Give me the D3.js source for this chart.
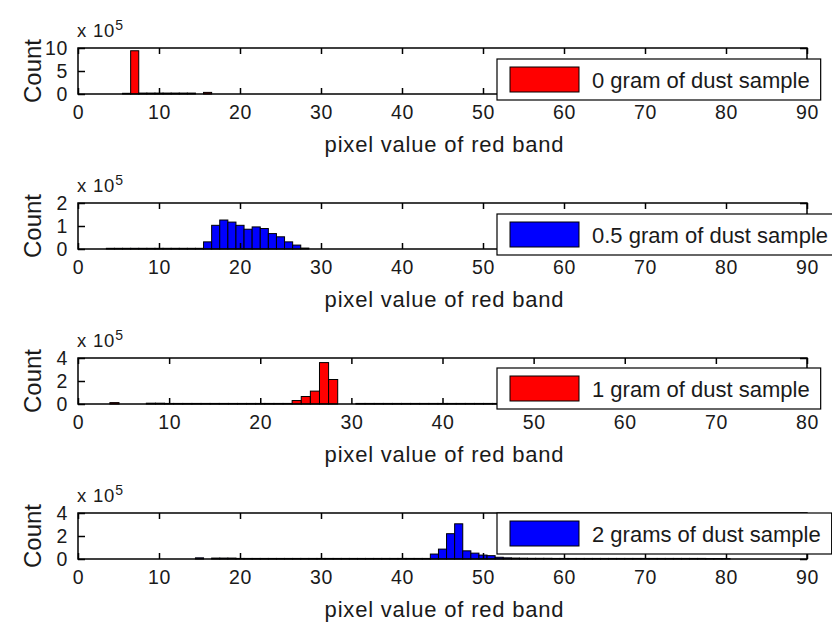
<!DOCTYPE html>
<html>
<head>
<meta charset="utf-8">
<script src="https://cdn.jsdelivr.net/npm/d3@7"></script>
<style>
  html, body { margin: 0; padding: 0; background: #fff; }
  svg { display: block; }
  text { font-family: "Liberation Sans", Arial, sans-serif; fill: #1a1a1a; }
</style>
</head>
<body>
<svg id="chart" width="832" height="626"></svg>
<script>
// ---------- data (counts in units of 1e5) ----------
const legendLabels = ["0 gram of dust sample", "0.5 gram of dust sample", "1 gram of dust sample", "2 grams of dust sample"];
const barColors = ["#ff0000", "#0000ff", "#ff0000", "#0000ff"];
const xMaxes = [90, 90, 80, 90];
const yMaxes = [10, 2, 4, 4];

const bins0 = [6, 7, 8, 9, 10, 11, 12, 13, 14, 16];
const counts0 = [0.15, 9.4, 0.2, 0.2, 0.2, 0.2, 0.2, 0.2, 0.2, 0.35];

const bins05 = [4, 5, 6, 7, 8, 9, 10, 11, 12, 13, 14, 15, 16, 17, 18, 19, 20, 21, 22, 23, 24, 25, 26, 27, 28];
const counts05 = [0.03, 0.03, 0.03, 0.03, 0.03, 0.03, 0.03, 0.03, 0.03, 0.03, 0.03, 0.03, 0.31, 1.03, 1.26, 1.17, 1.03, 0.86, 0.96, 0.89, 0.67, 0.53, 0.31, 0.17, 0.04];

const bins1 = [4, 8, 9, 10, 11, 12, 13, 14, 15, 16, 17, 18, 19, 20, 21, 22, 23, 24, 25, 26, 27, 28,
               31, 32, 33, 34, 35, 36, 37, 38, 39, 40, 41, 42, 43, 44, 45, 46, 47, 48];
const counts1 = [0.12, 0.07, 0.07, 0.05, 0.05, 0.05, 0.05, 0.05, 0.05, 0.05, 0.05, 0.05, 0.05, 0.05, 0.05, 0.05, 0.05, 0.3, 0.65, 1.12, 3.6, 2.13,
                 0.05, 0.05, 0.05, 0.05, 0.05, 0.05, 0.05, 0.05, 0.05, 0.05, 0.05, 0.05, 0.05, 0.05, 0.05, 0.05, 0.05, 0.05];

const bins2 = [15, 17, 18, 19, 20, 21, 22, 23, 24, 25, 26, 27, 28, 29, 30, 31, 32, 33, 34, 35, 36, 37, 38, 39, 40, 41, 42, 43,
               44, 45, 46, 47, 48, 49, 50, 51, 52, 53, 54, 55, 56, 57, 58, 59, 60, 61, 62, 63, 64, 65, 66, 67, 68, 69, 70, 71, 72, 73, 74, 75, 76, 77, 78, 79, 80];
const counts2 = [0.1, 0.08, 0.08, 0.08, 0.05, 0.05, 0.05, 0.05, 0.05, 0.05, 0.05, 0.05, 0.05, 0.05, 0.05, 0.05, 0.05, 0.05, 0.05, 0.05, 0.05, 0.05, 0.05, 0.05, 0.05, 0.05, 0.05, 0.05,
                 0.43, 0.86, 2.2, 3.06, 0.71, 0.51, 0.34, 0.29, 0.15, 0.1, 0.08, 0.07, 0.06, 0.06, 0.06, 0.05, 0.05, 0.05, 0.05, 0.05, 0.05, 0.05, 0.05, 0.05, 0.05, 0.05, 0.05, 0.05, 0.05, 0.05, 0.05, 0.05, 0.05, 0.05, 0.04, 0.04, 0.04];

const xTicks90 = [0, 10, 20, 30, 40, 50, 60, 70, 80, 90];
const xTicks80 = [0, 10, 20, 30, 40, 50, 60, 70, 80];
const yTicksList = [[0, 5, 10], [0, 1, 2], [0, 2, 4], [0, 2, 4]];
const xLabelText = "pixel value of red band";
const yLabelText = "Count";

const series = [
  { bins: bins0, counts: counts0 },
  { bins: bins05, counts: counts05 },
  { bins: bins1, counts: counts1 },
  { bins: bins2, counts: counts2 }
];
const xTicksList = [xTicks90, xTicks90, xTicks80, xTicks90];

// ---------- layout ----------
const svg = d3.select("#chart");
const L = 78, R = 807, PH = 46;
const tops = [48, 203, 358, 513];
const legendTopOffset = [11, 11, 10, 0];
const fmt = d3.format("d");

series.forEach((s, i) => {
  const top = tops[i], bottom = top + PH;
  const x = d3.scaleLinear().domain([0, xMaxes[i]]).range([L, R]);
  const y = d3.scaleLinear().domain([0, yMaxes[i]]).range([bottom, top]);
  const g = svg.append("g");

  g.append("rect").attr("x", L).attr("y", top).attr("width", R - L).attr("height", PH)
    .attr("fill", "#fff");

  // bars
  const data = s.bins.map((b, j) => ({ b, v: s.counts[j] }));
  g.append("g").selectAll("rect").data(data).join("rect")
    .attr("x", d => x(d.b - 0.5))
    .attr("width", d => x(d.b + 0.5) - x(d.b - 0.5))
    .attr("y", d => y(d.v))
    .attr("height", d => y(0) - y(d.v))
    .attr("fill", barColors[i])
    .attr("stroke", "#000")
    .attr("stroke-width", 1);

  const fs = 19.5;
  const ax = g.append("g").attr("transform", `translate(0,${bottom})`)
    .call(d3.axisBottom(x).tickValues(xTicksList[i]).tickFormat(fmt).tickSize(-6).tickPadding(11));
  ax.select(".domain").remove();
  ax.selectAll("text").style("font-size", fs + "px").style("letter-spacing", "0.6px").attr("fill", "#1a1a1a");
  ax.selectAll("line").attr("stroke", "#000").attr("stroke-width", 1.5);

  const axT = g.append("g").attr("transform", `translate(0,${top})`)
    .call(d3.axisTop(x).tickValues(xTicksList[i]).tickSize(-6).tickFormat(""));
  axT.select(".domain").remove();
  axT.selectAll("line").attr("stroke", "#000").attr("stroke-width", 1.5);

  const ay = g.append("g").attr("transform", `translate(${L},0)`)
    .call(d3.axisLeft(y).tickValues(yTicksList[i]).tickFormat(fmt).tickSize(-7).tickPadding(10));
  ay.select(".domain").remove();
  ay.selectAll("text").style("font-size", fs + "px").style("letter-spacing", "0.6px").attr("fill", "#1a1a1a");
  ay.selectAll("line").attr("stroke", "#000").attr("stroke-width", 1.5);

  const ayR = g.append("g").attr("transform", `translate(${R},0)`)
    .call(d3.axisRight(y).tickValues(yTicksList[i]).tickSize(-7).tickFormat(""));
  ayR.select(".domain").remove();
  ayR.selectAll("line").attr("stroke", "#000").attr("stroke-width", 1.5);

  g.append("rect").attr("x", L).attr("y", top).attr("width", R - L).attr("height", PH)
    .attr("fill", "none").attr("stroke", "#000").attr("stroke-width", 1.5);

  // exponent label
  const ex = g.append("text").attr("x", L - 1).attr("y", top - 11)
    .style("font-size", "18.5px").style("letter-spacing", "0.8px");
  ex.append("tspan").text("x 10");
  ex.append("tspan").attr("dy", -7).style("font-size", "14px").text("5");

  // y label
  g.append("text")
    .attr("transform", `translate(41,${top + PH / 2}) rotate(-90)`)
    .attr("text-anchor", "middle")
    .style("font-size", "24px")
    .text(yLabelText);

  // x label
  g.append("text")
    .attr("x", (L + R) / 2 + 2).attr("y", bottom + 58)
    .attr("text-anchor", "middle")
    .style("font-size", "22px").style("letter-spacing", "0.8px")
    .text(xLabelText);

  // legend
  const lx = 497, ly = top + legendTopOffset[i];
  const lg = svg.append("g");
  const box = lg.append("rect").attr("x", lx).attr("y", ly).attr("height", 41)
    .attr("fill", "#fff").attr("stroke", "#000").attr("stroke-width", 1.2);
  lg.append("rect").attr("x", lx + 13).attr("y", ly + 8).attr("width", 69).attr("height", 25)
    .attr("fill", barColors[i]).attr("stroke", "#000").attr("stroke-width", 1);
  const t = lg.append("text").attr("x", lx + 95).attr("y", ly + 29)
    .style("font-size", "22px")
    .text(legendLabels[i]);
  const tw = t.node().getComputedTextLength();
  box.attr("width", 95 + tw + 11);
});
</script>
</body>
</html>
